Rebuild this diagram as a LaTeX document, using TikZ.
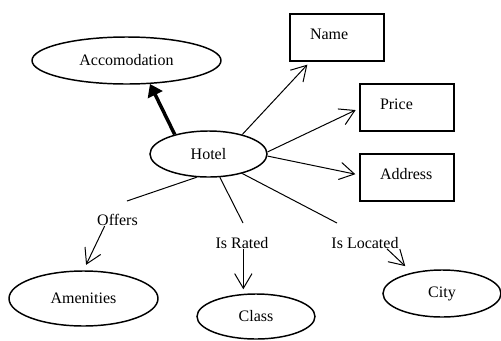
\documentclass[tikz,border=0pt]{standalone}
\usepackage{fontspec}
\setmainfont{Liberation Serif}
\usetikzlibrary{arrows.meta,shapes.geometric}
\begin{document}
\begin{tikzpicture}[x=0.75pt,y=-0.75pt,
  every node/.style={font=\fontsize{12}{14}\selectfont},
  concept/.style={ellipse,draw,line width=1.1pt,inner sep=0pt},
  attr/.style={rectangle,draw,line width=1.1pt,minimum width=70.5pt,
    minimum height=35.25pt,text width=40.5pt,inner xsep=15pt,inner ysep=0pt,
    align=left,text height=8pt,text depth=5pt},
  rel/.style={inner sep=0pt},
  link/.style={line width=0.75pt},
  arc/.style={link,-{Straight Barb[length=11pt,width=13pt]},shorten >=3pt},
  isa/.style={line width=2.6pt,-{Triangle[length=9pt,width=12pt]}}
]
\useasboundingbox (0,0) rectangle (501,340);

% concepts
\node[concept,minimum width=141.75pt,minimum height=35.25pt] (acc)   at (126.5,60.5)  {Accomodation};
\node[concept,minimum width=87.75pt, minimum height=34.5pt]  (hotel) at (208.5,154)   {Hotel};
\node[concept,minimum width=111.75pt,minimum height=41.25pt] (amen)  at (83.5,298.5)  {Amenities};
\node[concept,minimum width=88.5pt,  minimum height=33.75pt] (class) at (256,316.5)   {Class};
\node[concept,minimum width=88.5pt,  minimum height=35.25pt] (city)  at (442,293.5)   {City};

% attributes
\node[attr] (name)    at (337,37.5)  {Name};
\node[attr] (price)   at (407,107.5) {Price};
\node[attr] (address) at (407,177.5) {Address};

% relation labels
\node[rel] (offers)  at (117.5,220) {Offers};
\node[rel] (rated)   at (242,243)   {Is Rated};
\node[rel] (located) at (365,243)   {Is Located};

\coordinate (offersEnd)  at (127,201);
\coordinate (ratedEnd)   at (243,223);
\coordinate (locatedEnd) at (337,223);

% generalisation
\draw[isa] (hotel.150) -- (acc.315);

% attribute links
\draw[arc] (hotel.30)  -- (name.222);
\draw[arc] (hotel.2)   -- (price.181);
\draw[arc] (hotel.358) -- (address.177);

% relations
\draw[link] (hotel.243) -- (offersEnd);
\draw[arc,shorten >=4.5pt] (offers.205) -- (amen.north);

\draw[link] (hotel.296) -- (ratedEnd);
\draw[arc] ([xshift=1pt]rated.south) -- ([xshift=1pt]rated.south |- class.north);

\draw[link] (hotel.330) -- (locatedEnd);
\draw[arc,shorten >=7pt] (located.345) -- (city.145);
\end{tikzpicture}
\end{document}
